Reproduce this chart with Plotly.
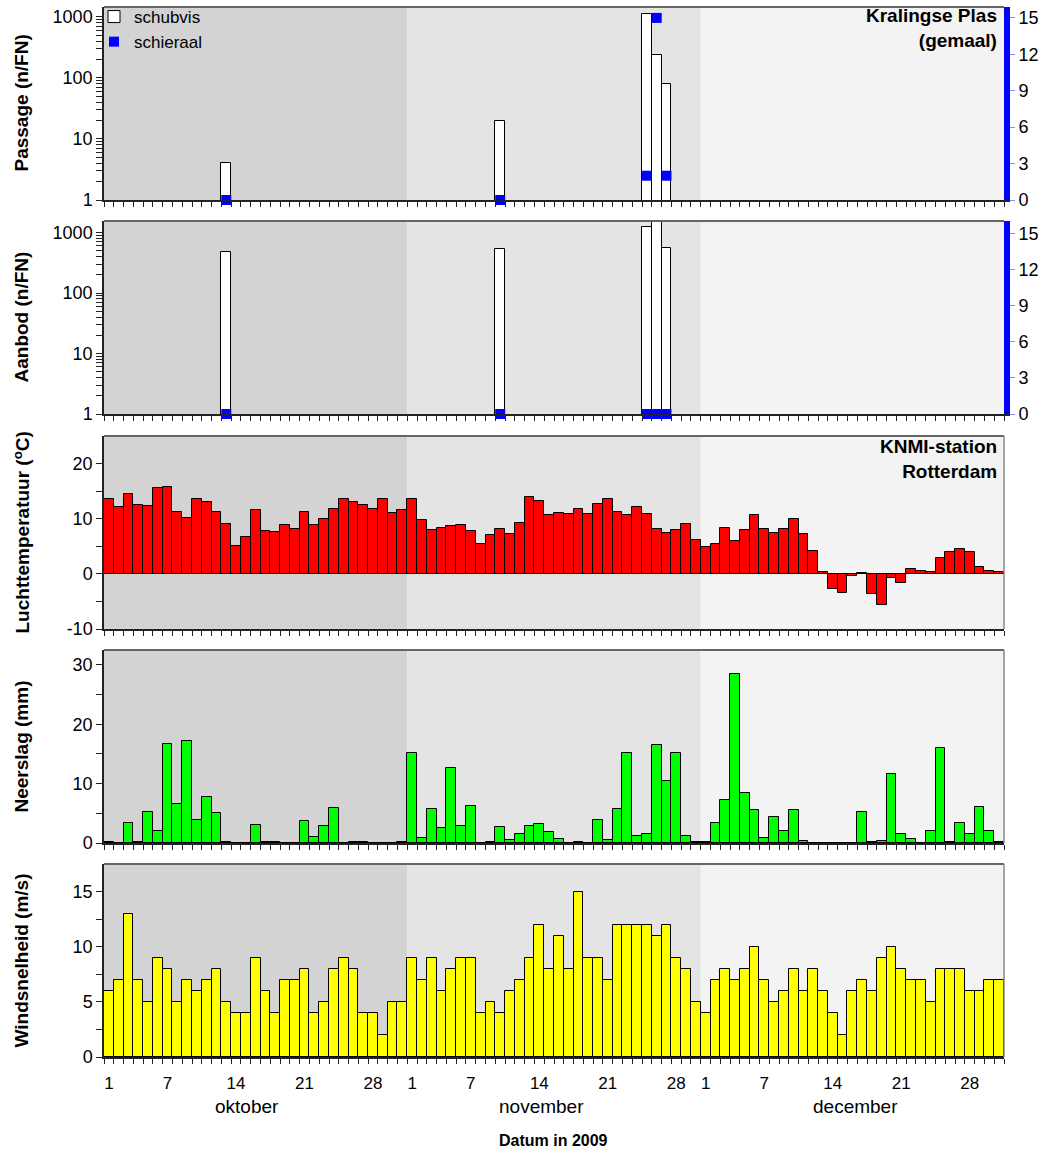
import plotly.graph_objects as go

# ---------------------------------------------------------------------------
# Data: 1 October - 31 December 2009, one value per day (index 0 = 1 oktober)
# ---------------------------------------------------------------------------
month_names = ["oktober", "november", "december"]
month_lengths = [31, 30, 31]
day_labels = [1, 7, 14, 21, 28]

# Fyke-net sampling nights (day index) and catches per fyke-net night
sample_days = [12, 40, 55, 56, 57]          # 13 okt, 10 nov, 25-27 nov
passage_schubvis = [4, 20, 1100, 240, 80]
passage_schieraal = [0, 0, 2, 15, 2]
aanbod_schubvis = [470, 540, 1250, 1480, 550]
aanbod_schieraal = [0, 0, 0, 0, 0]

# KNMI-station Rotterdam, daily means / sums
temperature = [
    13.6, 12.1, 14.5, 12.4, 12.3, 15.5, 15.8, 11.3, 10.2, 13.6, 13.0, 11.3, 9.1, 5.1, 6.7, 11.5,
    7.7, 7.6, 8.9, 8.2, 11.3, 8.9, 9.9, 11.7, 13.5, 13.0, 12.5, 11.8, 13.6, 11.0, 11.5,
    13.6, 9.8, 7.9, 8.4, 8.6, 8.9, 7.7, 5.5, 7.1, 8.1, 7.2, 9.2, 13.9, 13.3, 10.6, 11.1,
    10.9, 11.7, 10.9, 12.7, 13.5, 11.3, 10.7, 12.1, 10.9, 8.1, 7.4, 7.9, 9.1, 6.1,
    4.9, 5.4, 8.3, 5.9, 7.9, 10.6, 8.1, 7.5, 8.2, 10.0, 7.2, 4.2, 0.4, -2.7, -3.4, -0.3,
    0.1, -3.6, -5.7, -0.8, -1.6, 0.8, 0.5, 0.4, 2.8, 4.0, 4.5, 3.9, 1.3, 0.6, 0.3,
]
precipitation = [
    0.2, 0.0, 3.35, 0.1, 5.3, 1.95, 16.75, 6.55, 17.1, 3.85, 7.8, 5.0, 0.1, 0.0, 0.0, 3.1,
    0.2, 0.2, 0.0, 0.0, 3.65, 1.05, 2.8, 5.9, 0.0, 0.15, 0.1, 0.0, 0.0, 0.0, 0.1,
    15.1, 0.8, 5.7, 2.6, 12.6, 2.8, 6.3, 0.0, 0.1, 2.75, 0.45, 1.5, 2.8, 3.2, 1.9, 0.7,
    0.0, 0.1, 0.0, 3.85, 0.5, 5.7, 15.2, 1.1, 1.5, 16.45, 10.4, 15.2, 1.2, 0.1,
    0.1, 3.35, 7.2, 28.5, 8.35, 5.5, 0.8, 4.35, 2.05, 5.5, 0.35, 0.0, 0.0, 0.0, 0.0, 0.0,
    5.3, 0.1, 0.4, 11.6, 1.5, 0.65, 0.0, 2.0, 16.0, 0.1, 3.35, 1.45, 6.1, 2.0, 0.1,
]
windspeed = [
    6, 7, 13, 7, 5, 9, 8, 5, 7, 6, 7, 8, 5, 4, 4, 9, 6, 4, 7, 7, 8, 4, 5, 8, 9, 8, 4, 4, 2, 5, 5,
    9, 7, 9, 6, 8, 9, 9, 4, 5, 4, 6, 7, 9, 12, 8, 11, 8, 15, 9, 9, 7, 12, 12, 12, 12, 11, 12, 9, 8, 5,
    4, 7, 8, 7, 8, 10, 7, 5, 6, 8, 6, 8, 6, 4, 2, 6, 7, 6, 9, 10, 8, 7, 7, 5, 8, 8, 8, 6, 6, 7, 7,
]

# ---------------------------------------------------------------------------
W, H = 1046, 1154
FONT = "Arial, Liberation Sans, sans-serif"
n_days = sum(month_lengths)
days = list(range(n_days))
month_starts = [sum(month_lengths[:i]) for i in range(len(month_lengths))]
month_bg = ["#d3d3d3", "#e4e4e4", "#f3f3f3"]


def px(x):
    return x / W


def py(y):
    return 1 - y / H


x_dom = [px(104), px(1004)]
# pixel rows (top, bottom) of the five panels
rows = [(7, 200), (221, 414), (436, 629), (650, 843), (864, 1057)]
y_doms = [[py(b), py(t)] for t, b in rows]

boundaries = [d - 0.5 for d in range(n_days + 1)]

fig = go.Figure()

# --- panel 1: passage ------------------------------------------------------
fig.add_trace(go.Bar(
    x=sample_days, y=passage_schubvis, width=1, name="schubvis",
    marker=dict(color="white", line=dict(color="black", width=1)),
    xaxis="x", yaxis="y", showlegend=True,
))
fig.add_trace(go.Scatter(
    x=sample_days, y=passage_schieraal, mode="markers", name="schieraal",
    marker=dict(symbol="square", size=10, color="#0000ff", line=dict(width=0)),
    xaxis="x", yaxis="y2", cliponaxis=False, showlegend=True,
))

# --- panel 2: aanbod -------------------------------------------------------
fig.add_trace(go.Bar(
    x=sample_days, y=aanbod_schubvis, width=1, name="schubvis",
    marker=dict(color="white", line=dict(color="black", width=1)),
    xaxis="x2", yaxis="y3", showlegend=False,
))
fig.add_trace(go.Scatter(
    x=sample_days, y=aanbod_schieraal, mode="markers", name="schieraal",
    marker=dict(symbol="square", size=10, color="#0000ff", line=dict(width=0)),
    xaxis="x2", yaxis="y4", cliponaxis=False, showlegend=False,
))

# --- panels 3-5: weather ---------------------------------------------------
for vals, col, xa, ya in [
    (temperature, "#ff0000", "x3", "y5"),
    (precipitation, "#00ff00", "x4", "y6"),
    (windspeed, "#ffff00", "x5", "y7"),
]:
    fig.add_trace(go.Bar(
        x=days, y=vals, width=1,
        marker=dict(color=col, line=dict(color="black", width=1)),
        xaxis=xa, yaxis=ya, showlegend=False,
    ))

# --- axes ------------------------------------------------------------------
tick_font = dict(family=FONT, size=18, color="black")


def left_y(domain, anchor, rng, major, minor, **extra):
    ax = dict(domain=domain, anchor=anchor, range=rng, tickmode="array",
              tickvals=major, ticktext=[f"{v:g}" for v in major],
              showline=True, linecolor="#222", linewidth=1.5, ticks="outside",
              ticklen=6, tickcolor="#222", showgrid=False, zeroline=False,
              tickfont=tick_font, fixedrange=True, automargin=False,
              minor=dict(tickmode="array", tickvals=minor, ticks="outside",
                         ticklen=6, tickcolor="#222", tickwidth=1, showgrid=False))
    ax.update(extra)
    return ax


log_major = [1, 10, 100, 1000]
log_minor = [m * 10 ** e for e in range(3) for m in range(2, 10)]


def x_axis(anchor, last=False):
    ax = dict(domain=x_dom, anchor=anchor, range=[-0.5, n_days - 0.5],
              showline=True, linecolor="#222", linewidth=1.5, showgrid=False,
              zeroline=False, fixedrange=True, automargin=False)
    if last:
        vals, text = [], []
        for start, ln in zip(month_starts, month_lengths):
            for d in day_labels:
                if d <= ln:
                    vals.append(start + d - 1)
                    text.append(str(d))
        ax.update(tickmode="array", tickvals=vals, ticktext=text, ticks="outside",
                  ticklen=0, tickfont=dict(family=FONT, size=17, color="black"),
                  ticklabelstandoff=10,
                  minor=dict(tickmode="array", tickvals=boundaries, ticks="outside",
                             ticklen=5, tickcolor="#222", tickwidth=1))
    else:
        ax.update(tickmode="array", tickvals=boundaries, ticks="outside", ticklen=5,
                  tickcolor="#222", showticklabels=False)
    return ax


right_y = dict(side="right", tickmode="array", tickvals=[0, 3, 6, 9, 12, 15],
               showline=True, linecolor="#0000ff", linewidth=6, ticks="outside",
               ticklen=5, tickcolor="#8c8cff", showgrid=False, zeroline=False,
               tickfont=tick_font, fixedrange=True, automargin=False)

fig.update_layout(
    xaxis=x_axis("y"),
    xaxis2=x_axis("y3"),
    xaxis3=x_axis("y5"),
    xaxis4=x_axis("y6"),
    xaxis5=x_axis("y7", last=True),
    yaxis=left_y(y_doms[0], "x", [0, 3.163], log_major, log_minor, type="log"),
    yaxis2=dict(right_y, overlaying="y", anchor="x", range=[0, 15.9]),
    yaxis3=left_y(y_doms[1], "x2", [0, 3.19], log_major, log_minor, type="log"),
    yaxis4=dict(right_y, overlaying="y3", anchor="x2", range=[0, 16.05]),
    yaxis5=left_y(y_doms[2], "x3", [-10, 25], [-10, 0, 10, 20], [-5, 5, 15],
                  zeroline=True, zerolinecolor="#222", zerolinewidth=1),
    yaxis6=left_y(y_doms[3], "x4", [0, 32.5], [0, 10, 20, 30], [5, 15, 25]),
    yaxis7=left_y(y_doms[4], "x5", [0, 17.5], [0, 5, 10, 15], [2.5, 7.5, 12.5]),
)

# --- month shading and panel frames ----------------------------------------
shapes = []
panel_axes = [("x", "y"), ("x2", "y3"), ("x3", "y5"), ("x4", "y6"), ("x5", "y7")]
for i, (xa, ya) in enumerate(panel_axes):
    for start, ln, colr in zip(month_starts, month_lengths, month_bg):
        shapes.append(dict(type="rect", xref=xa, yref=f"{ya} domain",
                           x0=start - 0.5, x1=start + ln - 0.5, y0=0, y1=1,
                           fillcolor=colr, line=dict(width=0), layer="below"))
    shapes.append(dict(type="line", xref=f"{xa} domain", yref=f"{ya} domain",
                       x0=0, x1=1, y0=1, y1=1, line=dict(color="#666", width=2),
                       layer="above"))
    if i >= 2:
        shapes.append(dict(type="line", xref=f"{xa} domain", yref=f"{ya} domain",
                           x0=1, x1=1, y0=0, y1=1, line=dict(color="#888", width=1.5),
                           layer="above"))

# --- labels ----------------------------------------------------------------
annotations = []
y_titles = ["Passage (n/FN)", "Aanbod (n/FN)", "Luchttemperatuur (<sup>o</sup>C)",
            "Neerslag (mm)", "Windsnelheid (m/s)"]
for (t, b), title in zip(rows, y_titles):
    annotations.append(dict(text=f"<b>{title}</b>", xref="paper", yref="paper",
                            x=px(21), y=py((t + b) / 2), textangle=-90,
                            showarrow=False, xanchor="center", yanchor="middle",
                            font=dict(family=FONT, size=19, color="black")))

annotations.append(dict(text="<b>Kralingse Plas<br>(gemaal)</b>", xref="paper",
                        yref="paper", x=px(999), y=py(3), xanchor="right",
                        yanchor="top", align="right", showarrow=False,
                        font=dict(family=FONT, size=19, color="black")))
annotations.append(dict(text="<b>KNMI-station<br>Rotterdam</b>", xref="paper",
                        yref="paper", x=px(999), y=py(434), xanchor="right",
                        yanchor="top", align="right", showarrow=False,
                        font=dict(family=FONT, size=19, color="black")))

month_label_pos = [14.1, 44.2, 76.3]
for name, xpos in zip(month_names, month_label_pos):
    annotations.append(dict(text=name, xref="x5", yref="paper", x=xpos, y=py(1106),
                            xanchor="center", yanchor="middle", showarrow=False,
                            font=dict(family=FONT, size=19, color="black")))

annotations.append(dict(text="<b>Datum in 2009</b>", xref="paper", yref="paper",
                        x=px(553), y=py(1140), xanchor="center", yanchor="middle",
                        showarrow=False, font=dict(family=FONT, size=16, color="black")))

fig.update_layout(
    width=W, height=H, autosize=False,
    margin=dict(l=0, r=0, t=0, b=0, pad=0, autoexpand=False),
    paper_bgcolor="white", plot_bgcolor="white",
    barmode="overlay", bargap=0,
    shapes=shapes, annotations=annotations,
    font=dict(family=FONT, size=18, color="black"),
    legend=dict(x=px(94), y=py(-1), xanchor="left", yanchor="top",
                bgcolor="rgba(0,0,0,0)", borderwidth=0, tracegroupgap=0,
                itemwidth=30, font=dict(family=FONT, size=17, color="black")),
)

fig.write_html("out.html")
